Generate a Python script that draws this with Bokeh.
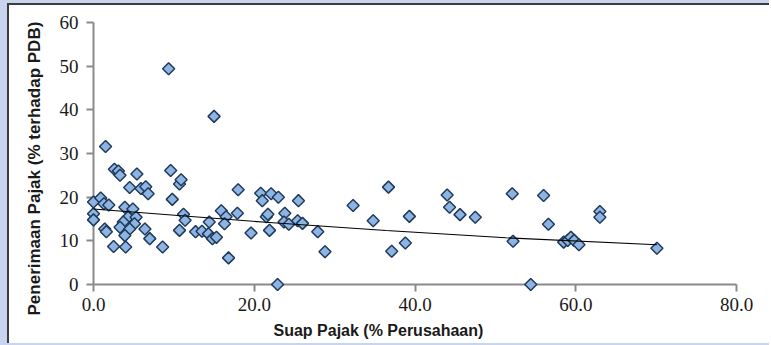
import numpy as np
from bokeh.plotting import figure
from bokeh.models import FixedTicker, PrintfTickFormatter, Range1d, ColumnDataSource, Title
from bokeh.embed import file_html
from bokeh.resources import INLINE

# Suap Pajak (% Perusahaan)
suap_x = [
    0.0, 0.0, 0.0, 0.9, 1.3, 1.9, 1.4, 1.6, 1.5,
    2.6, 3.1, 3.3, 2.5, 4.0, 3.9, 4.9, 4.3, 5.3, 3.7, 5.1, 3.3, 4.5, 6.4, 3.9, 7.0,
    4.5, 5.4, 5.9, 6.5, 6.8,
    8.6, 9.35, 9.6, 9.8, 10.7, 10.9, 11.2, 11.4, 10.7,
    12.7, 13.5, 14.4, 14.3, 14.8, 15.3, 15.0, 15.9, 16.5, 16.3, 16.8, 17.9, 18.0,
    19.6, 20.8, 21.0, 21.5, 21.7, 21.9, 22.1, 23.0, 22.9,
    23.8, 23.7, 24.3, 25.4, 26.0, 25.5, 27.9, 28.8,
    32.3, 34.8, 36.7, 37.1, 38.8, 39.3, 44.0, 44.3, 45.6, 47.5,
    52.1, 52.2, 54.4, 56.0, 56.6, 58.5, 59.0, 59.4, 59.8, 60.4,
    63.0, 63.0, 70.1,
]
# Penerimaan Pajak (% terhadap PDB)
penerimaan_y = [
    18.9, 16.2, 14.8, 19.8, 18.5, 18.2, 12.7, 12.1, 31.6,
    26.4, 26.0, 25.0, 8.7, 8.6, 17.7, 17.3, 15.4, 15.4, 14.3, 13.9, 13.1, 12.7, 12.7, 11.2, 10.5,
    22.2, 25.3, 22.0, 22.4, 20.8,
    8.6, 49.4, 26.1, 19.5, 23.0, 24.0, 16.1, 14.7, 12.4,
    12.1, 12.2, 14.3, 11.6, 10.5, 10.8, 38.5, 16.9, 15.5, 13.9, 6.1, 16.3, 21.7,
    11.8, 20.9, 19.2, 15.5, 16.1, 12.4, 20.8, 20.0, 0.0,
    16.3, 14.3, 13.8, 14.6, 14.0, 19.2, 12.1, 7.5,
    18.1, 14.6, 22.3, 7.6, 9.5, 15.6, 20.5, 17.7, 16.0, 15.4,
    20.8, 9.9, 0.0, 20.4, 13.8, 9.7, 10.1, 10.8, 10.1, 9.1,
    16.7, 15.4, 8.3,
]
# trendline
trend_x = [0.0, 21.4, 36.4, 51.3, 70.1]
trend_y = [17.3, 14.25, 12.35, 10.7, 9.1]

x_ticks = [0, 20, 40, 60, 80]
y_ticks = [0, 10, 20, 30, 40, 50, 60]

x_title = "Suap Pajak (% Perusahaan)"
y_title = "Penerimaan Pajak (% terhadap PDB)"

p = figure(width=762, height=340, output_backend="svg", toolbar_location=None,
           x_range=Range1d(0, 80), y_range=Range1d(0, 60),
           min_border_left=84, min_border_right=35, min_border_top=17,
           min_border_bottom=61)
p.margin = (3, 0, 0, 7)
p.outline_line_color = None
p.grid.visible = False
p.background_fill_color = "white"
p.border_fill_color = "white"
p.styles = {
    "border-left": "2px solid #3c3c3c",
    "border-top": "2px solid #3c3c3c",
    "box-shadow": "-4px -2px 0 4px #c9d5ee",
}

src = ColumnDataSource(dict(x=suap_x, y=penerimaan_y))
r = p.scatter("x", "y", source=src, marker="square", angle=np.pi / 4, size=8.5,
              fill_color="#8DB4E2", line_color="#1F3A5A", line_width=1.5)
r.level = "overlay"
tl = p.line(trend_x, trend_y, line_color="black", line_width=1.1)
tl.level = "overlay"

p.xaxis.ticker = FixedTicker(ticks=x_ticks)
p.xaxis.formatter = PrintfTickFormatter(format="%.1f")
p.yaxis.ticker = FixedTicker(ticks=y_ticks)
p.yaxis.formatter = PrintfTickFormatter(format="%d")

for ax in (p.xaxis, p.yaxis):
    ax.axis_line_color = "#8a8a8a"
    ax.axis_line_width = 2
    ax.major_tick_line_color = "#8a8a8a"
    ax.major_tick_line_width = 2
    ax.major_tick_out = 7
    ax.major_tick_in = 0
    ax.minor_tick_line_color = None
    ax.major_label_text_font = "Liberation Serif"
    ax.major_label_text_font_size = "19px"
    ax.major_label_text_color = "#1a1a1a"
p.xaxis.major_label_standoff = 6
p.yaxis.major_label_standoff = 8

# axis titles as side-panel titles, shifted like the reference
p.add_layout(Title(text=x_title, align="left", offset=180, standoff=13,
                   text_font="Liberation Sans", text_font_style="bold",
                   text_font_size="16px", text_color="#1a1a1a"), "below")
p.add_layout(Title(text=y_title, align="left", offset=-31, standoff=26,
                   text_font="Liberation Sans", text_font_style="bold",
                   text_font_size="17px", text_color="#1a1a1a"), "left")

open("out.html", "w").write(file_html(p, INLINE))
